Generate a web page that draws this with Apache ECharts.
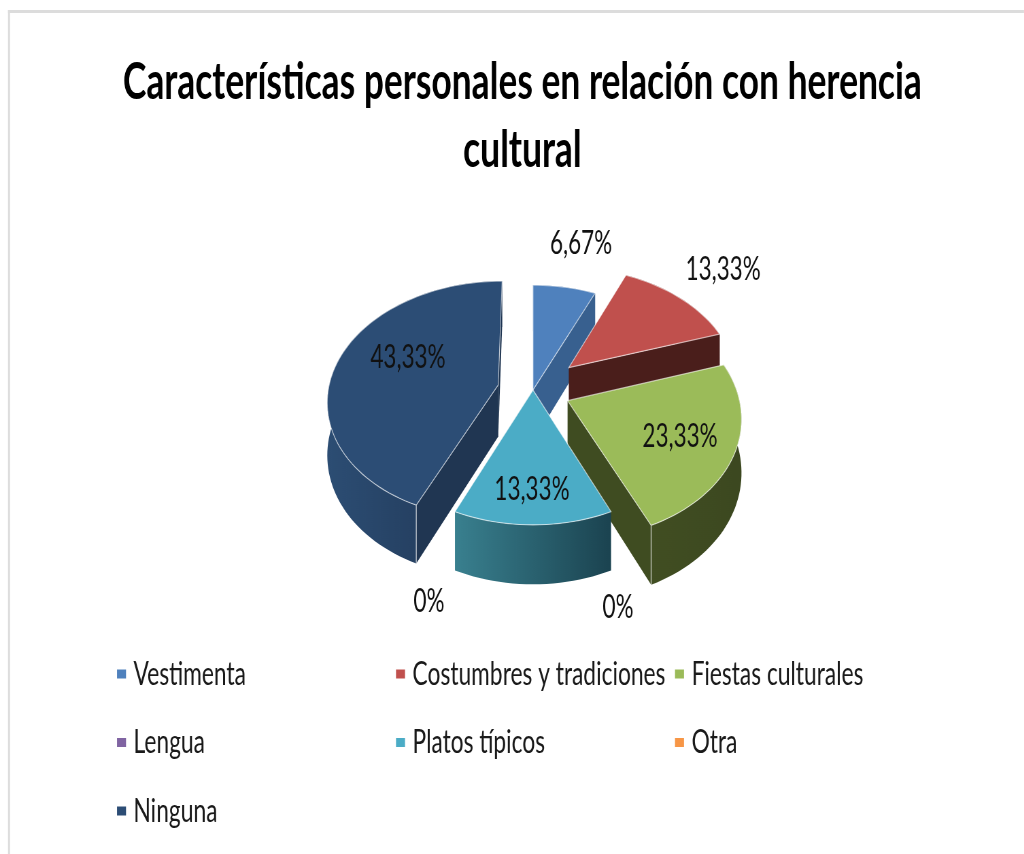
<!DOCTYPE html>
<html>
<head>
<meta charset="utf-8">
<style>html,body{margin:0;padding:0;background:#fff;overflow:hidden;width:1024px;height:854px}#c{height:854px;transform-origin:0 0;filter:blur(0.5px)}</style>
<script src="https://cdn.jsdelivr.net/npm/echarts@6/dist/echarts.min.js"></script>
</head>
<body>
<div id="c"></div>
<script>
const titleText = "Características personales en relación con herencia\ncultural";
const categories = ["Vestimenta","Costumbres y tradiciones","Fiestas culturales","Lengua","Platos típicos","Otra","Ninguna"];
const values = [6.67,13.33,23.33,0,13.33,0,43.33];
const valueLabels = ["6,67%","13,33%","23,33%","0%","13,33%","0%","43,33%"];
const topColors = ["#4F81BD","#C0504D","#9BBB59","#8064A2","#4BACC6","#F79646","#2C4D75"];
const wallColors = ["#38608F","#4A1E1B","#3F4C21","#4D3C62","#2D6878","#95591F","#203652"];
const arcColors = [["#38608F","#38608F"],["#4A1E1B","#4A1E1B"],["#414E22","#3C4820"],["#4D3C62","#4D3C62"],["#39808F","#1B4350"],["#95591F","#95591F"],["#2C4D73","#1F3553"]];
const explode = [0,0.29,0.22,0,0,0,0.21];
const drawOrder = [0,1,3,5,4,6,2];
const labelShift = [[16.5,-44],[43,-29],[-55,-16.5],[7,96],[-1,-35],[-26,90],[70,-4]];

// The reference is a horizontally squeezed picture: the chart is laid out wider and squeezed by SQ.
const SQ=0.68;
const el=document.getElementById('c');
el.style.width=(1024/SQ)+'px';
el.style.transform='scaleX('+SQ+')';
const CX=533/SQ, CY=390, RX=170/SQ, RY=118, PERSP=0.125, DEPTH=52, STEP=2;
const total = values.reduce((a,b)=>a+b,0);
const FONT = 'Lato,"Open Sans",sans-serif';

function proj(u,v,down){
  const w = 1+PERSP*v;
  return [CX+RX*u/w, CY-RY*v/w+(down?DEPTH/w:0)];
}
function sliceStart(i){
  let s=0; for(let k=0;k<i;k++) s+=values[k];
  return s/total*360;
}
function render(i){
  return function(params,api){
    const val=api.value(0);
    const a1=sliceStart(i), a2=a1+val/total*360;
    const mid=(a1+a2)/2*Math.PI/180;
    const ex=explode[i]*Math.sin(mid), ey=explode[i]*Math.cos(mid);
    const rim=(deg,down)=>{const t=deg*Math.PI/180;return proj(ex+Math.sin(t),ey+Math.cos(t),down);};
    const tipT=proj(ex,ey,false), tipB=proj(ex,ey,true);
    const children=[];
    if(val>0){
      const top=[tipT], upper=[], lower=[];
      const n=Math.max(2,Math.ceil((a2-a1)/STEP));
      for(let k=0;k<=n;k++){
        const d=a1+(a2-a1)*k/n;
        upper.push(rim(d,false)); lower.push(rim(d,true));
      }
      top.push(...upper);
      const wall=(d)=>({type:'polygon',shape:{points:[tipT,rim(d,false),rim(d,true),tipB]},style:{fill:wallColors[i]}});
      if(a2<180 || a2>359.9) children.push(wall(a2));
      if(a1>180) children.push(wall(a1));
      children.push({type:'polygon',shape:{points:upper.concat(lower.slice().reverse())},
        style:{fill:new echarts.graphic.LinearGradient(0,0,1,0,[{offset:0,color:arcColors[i][0]},{offset:1,color:arcColors[i][1]}])}});
      const edge=(d)=>{const p=rim(d,false),q=rim(d,true);children.push({type:'line',shape:{x1:p[0],y1:p[1],x2:q[0],y2:q[1]},style:{stroke:'rgba(255,255,255,0.65)',lineWidth:1.4}});};
      if(a2<180 && Math.cos(a2*Math.PI/180)<0) edge(a2);
      if(a1>180 && Math.cos(a1*Math.PI/180)<0) edge(a1);
      children.push({type:'polygon',shape:{points:top},style:{fill:topColors[i],stroke:'rgba(255,255,255,0.6)',lineWidth:1.2}});
    }
    const ref=rim((a1+a2)/2,false);
    children.push({type:'text',z2:10,x:ref[0]+labelShift[i][0]/SQ,y:ref[1]+labelShift[i][1],
      style:{text:valueLabels[i],fill:'#111',font:'33px '+FONT,align:'center',verticalAlign:'middle'}});
    return {type:'group',children};
  };
}
const legendStyle={fontFamily:FONT,fontSize:33.5,color:'#1a1a1a',padding:[0,0,0,6]};
const legendCols=[[0,3,6],[1,4],[2,5]];
const legendLeft=[117,396,675];
const chart=echarts.init(el,null,{renderer:'canvas'});
chart.setOption({
  animation:false,
  backgroundColor:'#fff',
  title:{text:titleText,left:519/SQ,top:43,textAlign:'center',
    textStyle:{fontFamily:FONT,fontWeight:'bold',fontSize:52,lineHeight:68,color:'#000'}},
  legend:legendCols.map((c,j)=>({orient:'vertical',left:legendLeft[j]/SQ,top:657,padding:0,itemWidth:9/SQ,itemHeight:9,itemGap:34.5,
    icon:'rect',selectedMode:false,data:c.map(k=>categories[k]),textStyle:legendStyle})),
  graphic:[
    {type:'rect',shape:{x:8/SQ,y:10,width:1016/SQ,height:3},style:{fill:'#dcdcdc'}},
    {type:'rect',shape:{x:8/SQ,y:10,width:2/SQ,height:844},style:{fill:'#dcdcdc'}}
  ],
  series:categories.map((name,i)=>({type:'custom',name,coordinateSystem:'none',z:2+drawOrder[i],
    itemStyle:{color:topColors[i]},data:[[values[i]]],renderItem:render(i),silent:true,clip:false}))
});
</script>
</body>
</html>
